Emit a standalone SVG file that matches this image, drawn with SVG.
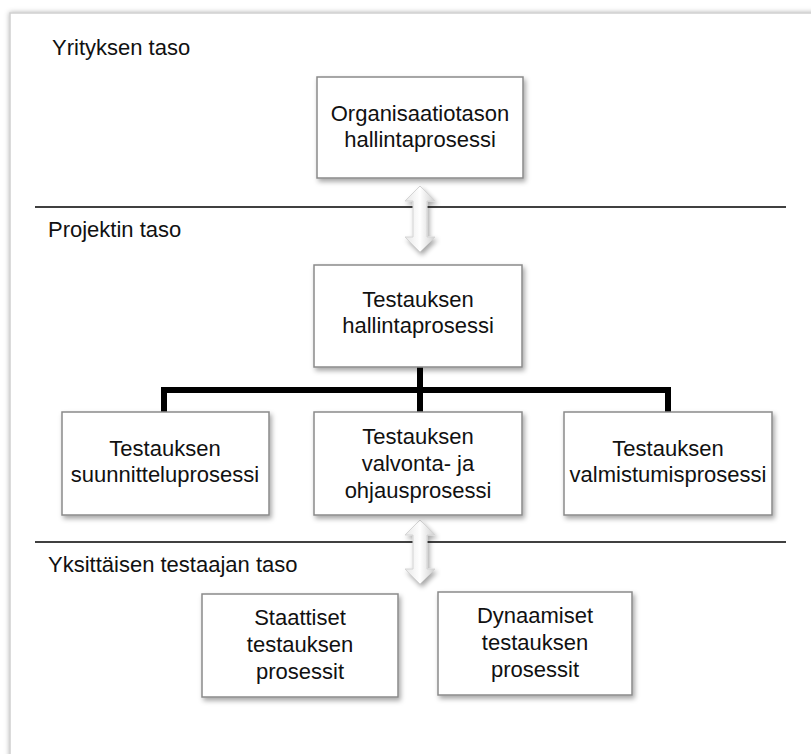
<svg xmlns="http://www.w3.org/2000/svg" width="811" height="754" viewBox="0 0 811 754">
<defs>
<filter id="sh" x="-10%" y="-10%" width="130%" height="130%">
<feDropShadow dx="2" dy="3" stdDeviation="2.5" flood-color="#000" flood-opacity="0.35"/>
</filter>
<filter id="fsh" x="-5%" y="-5%" width="110%" height="110%">
<feDropShadow dx="0" dy="0" stdDeviation="2.5" flood-color="#000" flood-opacity="0.3"/>
</filter>
<linearGradient id="ag" x1="0" y1="0" x2="1" y2="0">
<stop offset="0" stop-color="#e6e6e6"/>
<stop offset="0.5" stop-color="#ffffff"/>
<stop offset="1" stop-color="#cfcfcf"/>
</linearGradient>
<style>
.box{fill:#fff;stroke:#8a8a8a;stroke-width:1.5;filter:url(#sh)}
.t{font-family:"Liberation Sans",Arial,sans-serif;font-size:22px;fill:#111}
.c{text-anchor:middle}
.sep{stroke:#000;stroke-width:1.5}
.tree{stroke:#000;stroke-width:6;fill:none;stroke-linejoin:miter}
.arr{fill:url(#ag);stroke:#d4d4d4;stroke-width:1;filter:url(#sh)}
</style>
</defs>
<rect x="0" y="0" width="811" height="754" fill="#fff"/>
<rect x="10" y="13" width="830" height="780" fill="#fff" stroke="#cfcfcf" stroke-width="1.5" filter="url(#fsh)"/>

<g id="levels">
<text class="t" x="52" y="55">Yrityksen taso</text>
<line class="sep" x1="35" y1="207" x2="786" y2="207"/>
<text class="t" x="48" y="237">Projektin taso</text>
<line class="sep" x1="35" y1="542" x2="786" y2="542"/>
<text class="t" x="48" y="572">Yksittäisen testaajan taso</text>
</g>

<g id="connectors">
<polyline class="tree" points="164,412 164,390 668,390 668,412"/>
<line class="tree" x1="420" y1="367" x2="420" y2="412"/>
<polygon class="arr" points="420,186 435,201 427,201 427,237 435,237 420,252 405,237 413,237 413,201 405,201"/>
<polygon class="arr" points="420,520 435,535 427,535 427,569 435,569 420,584 405,569 413,569 413,535 405,535"/>
</g>

<g id="n_org">
<rect class="box" x="317" y="77" width="206" height="101"/>
<text class="t c" x="420" y="121">Organisaatiotason</text>
<text class="t c" x="420" y="147">hallintaprosessi</text>
</g>

<g id="n_hallinta">
<rect class="box" x="314" y="265" width="208" height="102"/>
<text class="t c" x="418" y="307">Testauksen</text>
<text class="t c" x="418" y="333">hallintaprosessi</text>
</g>

<g id="n_suunnittelu">
<rect class="box" x="62" y="412" width="207" height="103"/>
<text class="t c" x="165" y="456">Testauksen</text>
<text class="t c" x="165" y="482">suunnitteluprosessi</text>
</g>

<g id="n_valvonta">
<rect class="box" x="314" y="412" width="208" height="103"/>
<text class="t c" x="418" y="444">Testauksen</text>
<text class="t c" x="418" y="471">valvonta- ja</text>
<text class="t c" x="418" y="498">ohjausprosessi</text>
</g>

<g id="n_valmistumis">
<rect class="box" x="564" y="412" width="208" height="103"/>
<text class="t c" x="668" y="456">Testauksen</text>
<text class="t c" x="668" y="482">valmistumisprosessi</text>
</g>

<g id="n_staattiset">
<rect class="box" x="202" y="594" width="196" height="103"/>
<text class="t c" x="300" y="625">Staattiset</text>
<text class="t c" x="300" y="652">testauksen</text>
<text class="t c" x="300" y="679">prosessit</text>
</g>

<g id="n_dynaamiset">
<rect class="box" x="438" y="592" width="194" height="103"/>
<text class="t c" x="535" y="623">Dynaamiset</text>
<text class="t c" x="535" y="650">testauksen</text>
<text class="t c" x="535" y="677">prosessit</text>
</g>
</svg>
